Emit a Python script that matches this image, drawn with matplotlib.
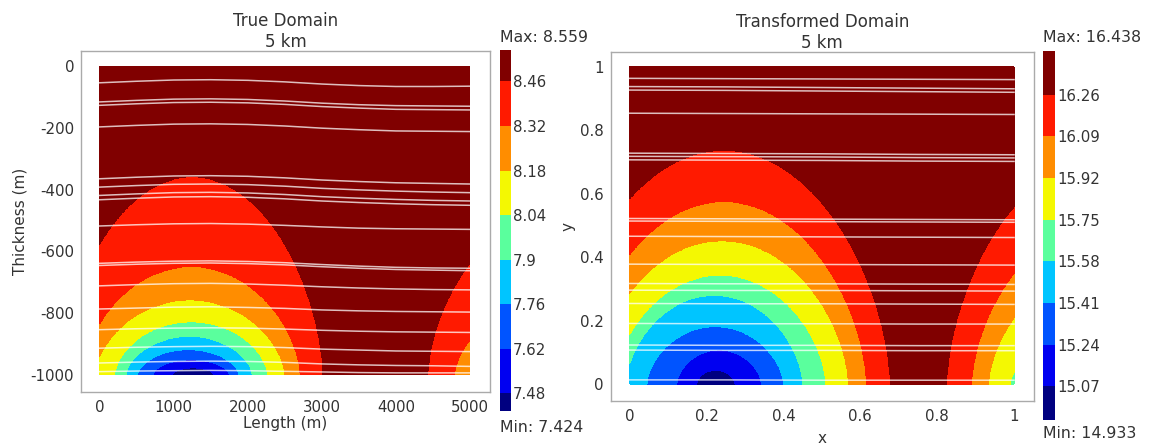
import numpy as np
import matplotlib
matplotlib.use("Agg")
import matplotlib.pyplot as plt
from matplotlib import cm

plt.rcParams['font.family'] = ['DejaVu Sans']
plt.rcParams['axes.unicode_minus'] = False

W, H = 1154, 447

# ---------------- data: left (true domain) ----------------
left_min, left_max = 7.424, 8.559
left_ticks = [7.48, 7.62, 7.76, 7.9, 8.04, 8.18, 8.32, 8.46]
# contour boundaries, outermost (highest) first; arch centre, half-width at base, height
left_bounds = [8.46, 8.32, 8.18, 8.04, 7.9, 7.76, 7.62, 7.48]
left_arch_xc = [1250, 1240, 1220, 1237, 1211, 1198, 1237, 1262]
left_arch_a = [1765, 1466, 1280, 1031, 850, 683, 515, 283]
left_arch_b = [641, 350, 242, 172, 124, 81, 49, 22]
left_arch2_xc = [6220, 6220, 6220, 6220, 6220, 6220, 6220, 6220]
left_arch2_a = [1787, 1426, 0, 0, 0, 0, 0, 0]
left_arch2_b = [526, 249, 0, 0, 0, 0, 0, 0]

left_line_x = [0, 500, 1000, 1500, 2000, 2500, 3000, 3500, 4000, 4500, 5000]
left_lines = [
    [-54, -49, -45, -44, -46, -51, -58, -63, -66, -66, -65],
    [-116, -111, -107, -106, -108, -113, -120, -125, -128, -129, -130],
    [-127, -122, -118, -117, -119, -124, -131, -136, -140, -141, -142],
    [-197, -192, -188, -187, -189, -194, -201, -206, -210, -211, -212],
    [-365, -360, -356, -355, -357, -362, -369, -374, -378, -380, -382],
    [-392, -387, -383, -382, -384, -389, -396, -401, -405, -408, -410],
    [-419, -414, -410, -409, -411, -416, -423, -428, -432, -435, -437],
    [-433, -428, -424, -423, -425, -430, -437, -442, -446, -449, -451],
    [-518, -514, -511, -510, -512, -516, -521, -525, -527, -528, -529],
    [-639, -635, -632, -631, -633, -637, -643, -648, -652, -654, -655],
    [-646, -642, -639, -638, -640, -644, -650, -655, -659, -661, -663],
    [-712, -708, -705, -704, -706, -710, -715, -719, -722, -724, -725],
    [-787, -784, -781, -780, -782, -785, -790, -793, -795, -796, -797],
    [-854, -851, -849, -848, -849, -852, -856, -859, -861, -862, -863],
    [-914, -911, -909, -908, -909, -912, -917, -920, -923, -924, -925],
    [-962, -959, -957, -956, -957, -960, -965, -968, -970, -971, -973],
    [-990, -988, -987, -986, -987, -989, -991, -993, -994, -994, -994],
]

# ---------------- data: right (transformed domain) ----------------
right_min, right_max = 14.933, 16.438
right_ticks = [15.07, 15.24, 15.41, 15.58, 15.75, 15.92, 16.09, 16.26]
right_bounds = [16.26, 16.09, 15.92, 15.75, 15.58, 15.41, 15.24, 15.07]
right_arch_xc = [0.245, 0.245, 0.24, 0.235, 0.22, 0.2225, 0.2325, 0.224]
right_arch_a = [0.433, 0.371, 0.329, 0.275, 0.23, 0.1775, 0.11, 0.05]
right_arch_b = [0.737, 0.575, 0.452, 0.343, 0.28, 0.181, 0.107, 0.044]
right_arch2_xc = [1.25, 1.25, 1.25, 1.25, 1.25, 1.25, 1.25, 1.25]
right_arch2_a = [0.425, 0.36, 0.316, 0.26, 0, 0, 0, 0]
right_arch2_b = [0.721, 0.518, 0.374, 0.165, 0, 0, 0, 0]

right_line_x = [0, 0.25, 0.5, 0.75, 1.0]
right_lines = [
    [0.964, 0.963, 0.962, 0.961, 0.960],
    [0.938, 0.937, 0.935, 0.933, 0.931],
    [0.927, 0.926, 0.924, 0.922, 0.920],
    [0.854, 0.853, 0.852, 0.851, 0.850],
    [0.728, 0.727, 0.726, 0.724, 0.723],
    [0.718, 0.717, 0.716, 0.714, 0.713],
    [0.707, 0.706, 0.705, 0.703, 0.702],
    [0.522, 0.521, 0.520, 0.519, 0.518],
    [0.514, 0.513, 0.512, 0.511, 0.510],
    [0.466, 0.465, 0.464, 0.463, 0.462],
    [0.378, 0.377, 0.377, 0.376, 0.375],
    [0.317, 0.316, 0.316, 0.315, 0.314],
    [0.296, 0.295, 0.295, 0.294, 0.293],
    [0.254, 0.253, 0.253, 0.252, 0.251],
    [0.191, 0.190, 0.190, 0.189, 0.189],
    [0.123, 0.122, 0.122, 0.121, 0.121],
    [0.107, 0.106, 0.106, 0.105, 0.105],
    [0.013, 0.013, 0.012, 0.012, 0.012],
]

SHAPE = 0.6
# jet samples for the 9 bands (navy ... dark red)
band_colors = [cm.jet(t) for t in (0.0, 0.1, 0.21, 0.32, 0.46, 0.645, 0.76, 0.88, 1.0)]


def build_field(x, y, ybase, vmin, vmax, bounds, xc, a, b, xc2, a2, b2):
    X, Y = np.meshgrid(x, y)
    levels = [vmin] + sorted(bounds) + [vmax]
    mids = [(levels[i] + levels[i + 1]) / 2 for i in range(len(levels) - 1)]
    Z = np.full(X.shape, mids[-1])
    hgt = Y - ybase
    nb = len(bounds)
    for k in range(nb):
        band = mids[nb - 1 - k]
        inside = np.zeros(X.shape, bool)
        for c, aa, bb in ((xc[k], a[k], b[k]), (xc2[k], a2[k], b2[k])):
            if aa <= 0:
                continue
            d = np.abs(X - c) / aa
            h = bb * np.clip(1 - d ** 2, 0, None) ** SHAPE
            inside |= (d < 1) & (hgt < h)
        Z[inside] = band
    return X, Y, Z, levels


def px(x):
    return x / W


def py(y):
    return 1 - y / H


fig = plt.figure(figsize=(W / 100, H / 100), dpi=100)
fig.patch.set_facecolor('white')

fs_tick = 10.8
fs_lab = 11
fs_title = 12
fs_mm = 11.3
tcol = '#333333'


def style_axes(ax):
    for s in ax.spines.values():
        s.set_color('#aaaaaa')
        s.set_linewidth(1.0)
    ax.tick_params(length=0, labelsize=fs_tick, colors=tcol)


def add_cbar(cs, rect, ticks):
    cax = fig.add_axes(rect)
    cb = fig.colorbar(cs, cax=cax, spacing='proportional', ticks=ticks)
    cb.outline.set_visible(False)
    cax.tick_params(length=0, pad=1.5, labelsize=fs_tick, colors=tcol)
    cb.set_ticklabels([('%g' % t) for t in ticks])
    return cb


# ---- left panel
axL = fig.add_axes([px(81), py(391.7), px(409), 341 / H])
xl = np.linspace(0, 5000, 1001)
yl = np.linspace(-1000, 0, 601)
X, Y, Z, lev = build_field(xl, yl, -1000, left_min, left_max, left_bounds,
                           left_arch_xc, left_arch_a, left_arch_b,
                           left_arch2_xc, left_arch2_a, left_arch2_b)
csL = axL.contourf(X, Y, Z, levels=lev, colors=band_colors)
for ln in left_lines:
    axL.plot(left_line_x, ln, color='white', alpha=0.75, lw=1.1)
axL.set_xlim(-250, 5270)
axL.set_ylim(-1055, 50)
axL.set_xticks([0, 1000, 2000, 3000, 4000, 5000])
axL.set_yticks([0, -200, -400, -600, -800, -1000])
style_axes(axL)
axL.tick_params(axis='x', pad=6)
axL.tick_params(axis='y', pad=5)
axL.set_title('True Domain\n5 km', fontsize=fs_title, color=tcol, pad=3, linespacing=1.2)
axL.set_xlabel('Length (m)', fontsize=fs_lab, color=tcol, labelpad=1)
axL.set_ylabel('Thickness (m)', fontsize=fs_lab, color=tcol, labelpad=2)
add_cbar(csL, [px(500), py(411), px(11), 361 / H], left_ticks)
fig.text(px(500), py(38), 'Max: %.3f' % left_max, fontsize=fs_mm, color=tcol, va='center', ha='left')
fig.text(px(500), py(427), 'Min: %.3f' % left_min, fontsize=fs_mm, color=tcol, va='center', ha='left')

# ---- right panel
axR = fig.add_axes([px(610.5), py(400.5), px(423.5), 348.8 / H])
xr = np.linspace(0, 1, 1001)
yr = np.linspace(0, 1, 601)
X, Y, Z, lev = build_field(xr, yr, 0.0, right_min, right_max, right_bounds,
                           right_arch_xc, right_arch_a, right_arch_b,
                           right_arch2_xc, right_arch2_a, right_arch2_b)
csR = axR.contourf(X, Y, Z, levels=lev, colors=band_colors)
for ln in right_lines:
    axR.plot(right_line_x, ln, color='white', alpha=0.75, lw=1.1)
axR.set_xlim(-0.05, 1.052)
axR.set_ylim(-0.052, 1.048)
axR.set_xticks([0, 0.2, 0.4, 0.6, 0.8, 1.0])
axR.set_xticklabels(['0', '0.2', '0.4', '0.6', '0.8', '1'])
axR.set_yticks([0, 0.2, 0.4, 0.6, 0.8, 1.0])
axR.set_yticklabels(['0', '0.2', '0.4', '0.6', '0.8', '1'])
style_axes(axR)
axR.tick_params(axis='x', pad=6)
axR.tick_params(axis='y', pad=5)
axR.set_title('Transformed Domain\n5 km', fontsize=fs_title, color=tcol, pad=3, linespacing=1.2)
axR.set_xlabel('x', fontsize=fs_lab, color=tcol, labelpad=5)
axR.set_ylabel('y', fontsize=fs_lab, color=tcol, labelpad=3)
add_cbar(csR, [px(1043.3), py(420), px(11.7), 369 / H], right_ticks)
fig.text(px(1043), py(38), 'Max: %.3f' % right_max, fontsize=fs_mm, color=tcol, va='center', ha='left')
fig.text(px(1043), py(433), 'Min: %.3f' % right_min, fontsize=fs_mm, color=tcol, va='center', ha='left')

fig.savefig('out.png', dpi=100, facecolor='white')
